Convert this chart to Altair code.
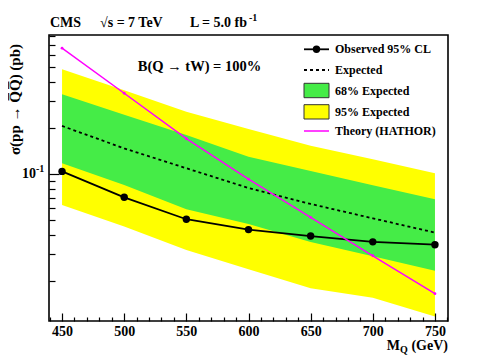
import altair as alt
import pandas as pd

# ---- data ----
mass = [450, 500, 550, 600, 650, 700, 750]
observed = [0.104, 0.0704, 0.0506, 0.0433, 0.0393, 0.0360, 0.0345]
expected = [0.206, 0.147, 0.109, 0.081, 0.0637, 0.0513, 0.0414]
band68_low = [0.1175, 0.0847, 0.0588, 0.0471, 0.0359, 0.0290, 0.0233]
band68_high = [0.332, 0.244, 0.180, 0.1295, 0.1044, 0.0845, 0.0683]
band95_low = [0.0627, 0.0453, 0.0318, 0.0238, 0.0179, 0.0155, 0.0117]
band95_high = [0.483, 0.352, 0.255, 0.197, 0.153, 0.125, 0.101]
theory = [0.664, 0.337, 0.170, 0.0925, 0.0521, 0.0292, 0.0165]

x_major = [450, 500, 550, 600, 650, 700, 750]
x_minor = [440, 460, 470, 480, 490, 510, 520, 530, 540, 560, 570, 580, 590,
           610, 620, 630, 640, 660, 670, 680, 690, 710, 720, 730, 740, 760]
y_major = [0.1]
y_major_text = ["10"]
y_minor = [0.02, 0.03, 0.04, 0.05, 0.06, 0.07, 0.08, 0.09,
           0.2, 0.3, 0.4, 0.5, 0.6, 0.7, 0.8]

df = pd.DataFrame({
    "m": mass, "obs": observed, "exp": expected,
    "g_lo": band68_low, "g_hi": band68_high,
    "y_lo": band95_low, "y_hi": band95_high,
    "th": theory,
})

W, H = 399, 286
FONT = "Liberation Serif"
GREEN = "#45ec47"
YELLOW = "#ffff00"
MAGENTA = "#ff00ff"

xs = alt.Scale(domain=[439.5, 760.5], nice=False, zero=False)
ys = alt.Scale(type="log", domain=[0.01094, 0.81], nice=False)

base = alt.Chart(df)

x_label_axis = alt.Axis(values=x_major, ticks=False, domain=False, grid=False,
                        labelFont=FONT, labelFontWeight="bold", labelFontSize=14,
                        labelColor="black", labelPadding=3, title=None, orient="bottom")
x_major_axis = alt.Axis(values=x_major, orient="top", offset=-H, tickSize=8,
                        tickWidth=1.2, tickColor="black", labels=False,
                        domain=False, grid=False, title=None, zindex=1)
x_minor_axis = alt.Axis(values=x_minor, orient="top", offset=-H, tickSize=4,
                        tickWidth=1.2, tickColor="black", labels=False,
                        domain=False, grid=False, title=None, zindex=1)
y_major_axis = alt.Axis(values=y_major, orient="right", offset=-W, tickSize=10,
                        tickWidth=1.2, tickColor="black", labels=False,
                        domain=False, grid=False, title=None, zindex=1)
y_minor_axis = alt.Axis(values=y_minor, orient="right", offset=-W, tickSize=6,
                        tickWidth=1.2, tickColor="black", labels=False,
                        domain=False, grid=False, title=None, zindex=1)

yellow = base.mark_area(color=YELLOW, opacity=1).encode(
    x=alt.X("m:Q", scale=xs, axis=x_label_axis),
    y=alt.Y("y_lo:Q", scale=ys, axis=y_major_axis),
    y2="y_hi:Q",
)
green = base.mark_area(color=GREEN, opacity=1).encode(
    x=alt.X("m:Q", scale=xs, axis=x_major_axis),
    y=alt.Y("g_lo:Q", scale=ys, axis=y_minor_axis),
    y2="g_hi:Q",
)
exp_line = base.mark_line(color="black", strokeWidth=1.8, strokeDash=[3, 3]).encode(
    x=alt.X("m:Q", scale=xs, axis=x_minor_axis),
    y=alt.Y("exp:Q", scale=ys, axis=None),
)
obs_line = base.mark_line(color="black", strokeWidth=1.8).encode(
    x=alt.X("m:Q", scale=xs, axis=None),
    y=alt.Y("obs:Q", scale=ys, axis=None),
)
obs_pts = base.mark_circle(color="black", size=55, opacity=1).encode(
    x=alt.X("m:Q", scale=xs, axis=None),
    y=alt.Y("obs:Q", scale=ys, axis=None),
)
th_line = base.mark_line(color=MAGENTA, strokeWidth=1.5).encode(
    x=alt.X("m:Q", scale=xs, axis=None),
    y=alt.Y("th:Q", scale=ys, axis=None),
)
th_pts = base.mark_circle(color=MAGENTA, size=8, opacity=1).encode(
    x=alt.X("m:Q", scale=xs, axis=None),
    y=alt.Y("th:Q", scale=ys, axis=None),
)

# y tick label 10^-1
ylab_df = pd.DataFrame({"v": y_major, "t": y_major_text})
ylab = alt.Chart(ylab_df).mark_text(font=FONT, fontWeight="bold", fontSize=14,
                                    align="right", baseline="middle", dy=0).encode(
    x=alt.value(-13), y=alt.Y("v:Q", scale=ys, axis=None), text="t:N")
ylab_sup = alt.Chart(ylab_df).mark_text(font=FONT, fontWeight="bold", fontSize=10,
                                        align="left", baseline="middle", dy=-5,
                                        text="-1").encode(
    x=alt.value(-13), y=alt.Y("v:Q", scale=ys, axis=None))

one = pd.DataFrame({"k": [0]})


def txt(s, x, y, size=14, align="left", baseline="alphabetic", angle=0, weight="bold"):
    return alt.Chart(one).mark_text(text=s, font=FONT, fontWeight=weight, fontSize=size,
                                    align=align, baseline=baseline, angle=angle,
                                    color="black").encode(x=alt.value(x), y=alt.value(y))


annotations = [
    txt("CMS", 1, -8),
    txt("\u221as = 7 TeV", 51, -8),
    txt("L = 5.0 fb", 141, -8),
    txt("-1", 200, -14, size=10),
    txt("B(Q \u2192 tW) = 100%", 150.5, 32, size=14.5, align="center", baseline="middle"),
    txt("\u03c3(pp \u2192 Q\u0305Q\u0305) (pb)", -34, 64.5, size=15, align="center",
        baseline="middle", angle=270),
    txt("(GeV)", 399, 315, size=14, align="right"),
    txt("Q", 351, 318, size=10, align="left"),
    txt("M", 351, 315, size=14, align="right"),
]

# legend
LX1, LX2, LT = 255, 280, 286


def rule(y, color, dash=None, width=1.8):
    kw = dict(color=color, strokeWidth=width)
    if dash:
        kw["strokeDash"] = dash
    return alt.Chart(one).mark_rule(**kw).encode(
        x=alt.value(LX1), x2=alt.value(LX2), y=alt.value(y))


def box(y1, y2, color):
    return alt.Chart(one).mark_rect(color=color, stroke="#333333", strokeWidth=1).encode(
        x=alt.value(LX1), x2=alt.value(LX2), y=alt.value(y1), y2=alt.value(y2))


legend = [
    rule(14.3, "black"),
    alt.Chart(one).mark_circle(color="black", size=55, opacity=1).encode(
        x=alt.value((LX1 + LX2) / 2), y=alt.value(14.3)),
    txt("Observed 95% CL", LT, 14.3, size=12, baseline="middle"),
    rule(35, "black", dash=[3, 3]),
    txt("Expected", LT, 35, size=12, baseline="middle"),
    box(48.3, 62.7, GREEN),
    txt("68% Expected", LT, 55.5, size=12, baseline="middle"),
    box(69.7, 84, YELLOW),
    txt("95% Expected", LT, 77, size=12, baseline="middle"),
    rule(96, MAGENTA, width=1.5),
    txt("Theory (HATHOR)", LT, 96, size=12, baseline="middle"),
]

chart = alt.layer(
    yellow, green, exp_line, obs_line, obs_pts, th_line, th_pts,
    ylab, ylab_sup, *annotations, *legend
).resolve_axis(x="independent", y="independent").properties(
    width=W, height=H,
    autosize=alt.AutoSizeParams(type="none"),
    padding={"left": 41, "top": 27, "right": 42, "bottom": 35},
    background="white",
).configure_view(stroke="black", strokeWidth=1.6)

chart.save("out.html", embed_options={"renderer": "svg", "actions": False})
